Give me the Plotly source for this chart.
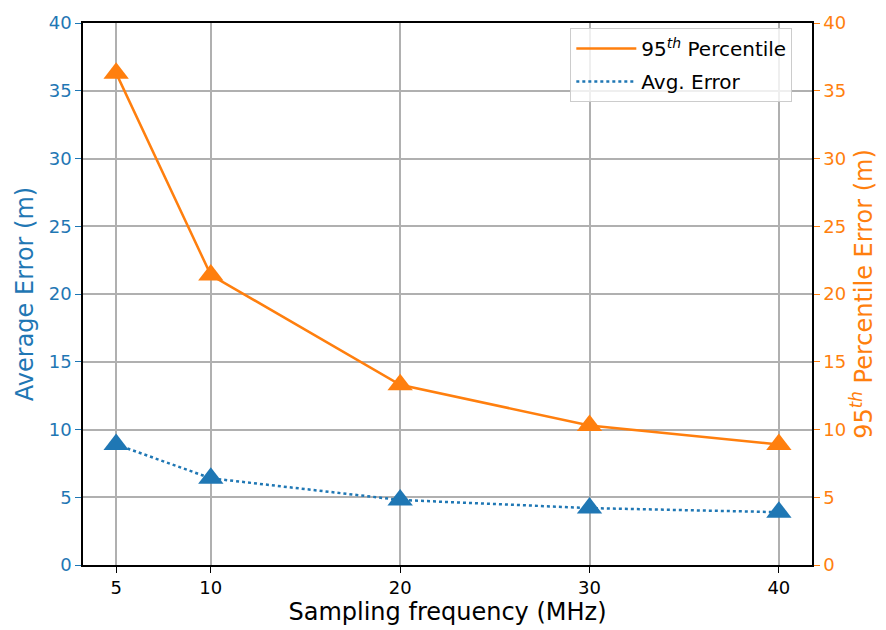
import plotly.graph_objects as go

# Sampling frequency (MHz) and localisation errors (m)
freq = [5, 10, 20, 30, 40]
p95_error = [36.3, 21.4, 13.3, 10.3, 8.9]
avg_error = [8.9, 6.4, 4.8, 4.2, 3.9]
x_ticks = [5, 10, 20, 30, 40]
y_ticks = [0, 5, 10, 15, 20, 25, 30, 35, 40]

BLUE = "#1f77b4"
ORANGE = "#ff7f0e"
GRID = "#b0b0b0"
FONT = "DejaVu Sans"

P95_NAME = "95<sup><i>th</i></sup> Percentile"
AVG_NAME = "Avg. Error"

fig = go.Figure()

# Data series (markers + lines)
fig.add_trace(go.Scatter(
    x=freq, y=p95_error, name=P95_NAME, showlegend=False,
    mode="lines+markers", yaxis="y2",
    line=dict(color=ORANGE, width=2.5),
    marker=dict(symbol="triangle-up", size=22, color=ORANGE),
))
fig.add_trace(go.Scatter(
    x=freq, y=avg_error, name=AVG_NAME, showlegend=False,
    mode="lines+markers", yaxis="y",
    line=dict(color=BLUE, width=2.5, dash="dot"),
    marker=dict(symbol="triangle-up", size=22, color=BLUE),
))

# Legend entries show only the line style
fig.add_trace(go.Scatter(
    x=[None], y=[None], name=P95_NAME, mode="lines", yaxis="y2",
    legendgroup="p95", line=dict(color=ORANGE, width=2.5),
))
fig.add_trace(go.Scatter(
    x=[None], y=[None], name=AVG_NAME, mode="lines", yaxis="y",
    legendgroup="avg", line=dict(color=BLUE, width=2.5, dash="dot"),
))

axis_common = dict(
    showline=True, linecolor="black", linewidth=1.5,
    ticks="outside", ticklen=6, tickwidth=1.2,
    zeroline=False,
)

fig.update_layout(
    width=886, height=630,
    margin=dict(l=83, r=74, t=20, b=65),
    paper_bgcolor="white", plot_bgcolor="white",
    font=dict(family=FONT, size=18, color="black"),
    xaxis=dict(
        **axis_common, mirror=True, tickcolor="black",
        range=[3.25, 41.75], tickvals=x_ticks,
        showgrid=True, gridcolor=GRID, gridwidth=1.5,
        title=dict(text="Sampling frequency (MHz)", font=dict(size=24), standoff=2),
        tickfont=dict(size=18),
    ),
    yaxis=dict(
        **axis_common, tickcolor=BLUE,
        range=[0, 40], tickvals=y_ticks,
        showgrid=True, gridcolor=GRID, gridwidth=1.5,
        tickfont=dict(size=18, color=BLUE),
        title=dict(text="Average Error (m)", font=dict(size=24, color=BLUE), standoff=8),
    ),
    yaxis2=dict(
        **axis_common, tickcolor=ORANGE,
        overlaying="y", side="right",
        range=[0, 40], tickvals=y_ticks, showgrid=False,
        tickfont=dict(size=18, color=ORANGE),
        title=dict(text="95<sup><i>th</i></sup> Percentile Error (m)",
                   font=dict(size=24, color=ORANGE), standoff=8),
    ),
    legend=dict(
        x=0.973, y=0.991, xanchor="right", yanchor="top",
        bgcolor="rgba(255,255,255,0.8)", bordercolor="#cccccc", borderwidth=1,
        font=dict(size=20), tracegroupgap=4, itemwidth=60,
    ),
    showlegend=True,
)

fig.write_html("out.html")
